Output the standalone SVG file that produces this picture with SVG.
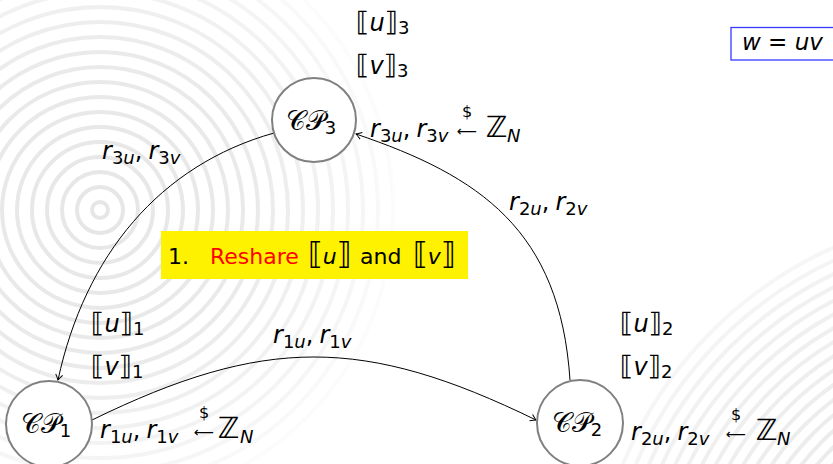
<svg xmlns="http://www.w3.org/2000/svg" width="833" height="464" viewBox="0 0 833 464">
<defs>
<style>
text { font-family: "DejaVu Sans", "Liberation Sans", sans-serif; font-size: 24px; fill: #000; }
.i { font-style: italic; }
.s { font-size: 18px; }
.b { font-size: 27px; }
.cp { font-size: 27px; }
.dol { font-size: 16px; }
.arw { font-size: 14px; }
.zz { font-size: 29px; }
.st { font-size: 22px; }
.bb { font-size: 30px; }
.node circle { fill: #fff; stroke: #808080; stroke-width: 2; }
.edge { fill: none; stroke: #000; stroke-width: 1; marker-end: url(#arr); }
.bgL circle { fill: none; stroke: url(#gL); stroke-width: 4; }
.bgR circle { fill: none; stroke: url(#gR); stroke-width: 4; }
</style>
<radialGradient id="gL" gradientUnits="userSpaceOnUse" cx="100" cy="210" r="310">
<stop offset="0" stop-color="#e6e6e6"/>
<stop offset="0.5" stop-color="#eaeaea"/>
<stop offset="0.85" stop-color="#f6f6f6"/>
<stop offset="1" stop-color="#ffffff"/>
</radialGradient>
<radialGradient id="gR" gradientUnits="userSpaceOnUse" cx="1000" cy="620" r="470">
<stop offset="0.35" stop-color="#e8e8e8"/>
<stop offset="0.8" stop-color="#f1f1f1"/>
<stop offset="1" stop-color="#ffffff"/>
</radialGradient>
<marker id="arr" markerUnits="userSpaceOnUse" markerWidth="10" markerHeight="10" refX="0" refY="0" orient="auto" style="overflow:visible">
<path d="M-5.5,-3.5 Q-1.5,-0.8 0,0 Q-1.5,0.8 -5.5,3.5" fill="none" stroke="#000" stroke-width="1"/>
</marker>
</defs>
<rect width="833" height="464" fill="#fff"/>
<g class="bgL">
<circle cx="100" cy="210" r="8"/><circle cx="100" cy="210" r="23"/><circle cx="100" cy="210" r="38"/><circle cx="100" cy="210" r="53"/><circle cx="100" cy="210" r="68"/><circle cx="100" cy="210" r="83"/><circle cx="100" cy="210" r="98"/><circle cx="100" cy="210" r="113"/><circle cx="100" cy="210" r="128"/><circle cx="100" cy="210" r="143"/><circle cx="100" cy="210" r="158"/><circle cx="100" cy="210" r="173"/><circle cx="100" cy="210" r="188"/><circle cx="100" cy="210" r="203"/><circle cx="100" cy="210" r="218"/><circle cx="100" cy="210" r="233"/><circle cx="100" cy="210" r="248"/><circle cx="100" cy="210" r="263"/><circle cx="100" cy="210" r="278"/><circle cx="100" cy="210" r="293"/>
</g>
<g class="bgR">
<circle cx="1000" cy="620" r="180"/><circle cx="1000" cy="620" r="192"/><circle cx="1000" cy="620" r="204"/><circle cx="1000" cy="620" r="216"/><circle cx="1000" cy="620" r="228"/><circle cx="1000" cy="620" r="240"/><circle cx="1000" cy="620" r="252"/><circle cx="1000" cy="620" r="264"/><circle cx="1000" cy="620" r="276"/><circle cx="1000" cy="620" r="288"/><circle cx="1000" cy="620" r="300"/><circle cx="1000" cy="620" r="312"/><circle cx="1000" cy="620" r="324"/><circle cx="1000" cy="620" r="336"/><circle cx="1000" cy="620" r="348"/><circle cx="1000" cy="620" r="360"/><circle cx="1000" cy="620" r="372"/><circle cx="1000" cy="620" r="384"/><circle cx="1000" cy="620" r="396"/><circle cx="1000" cy="620" r="408"/>
</g>

<g id="connectors">
<path class="edge" d="M274,133 C160,165 85,255 58,380"/>
<path class="edge" d="M92,420 C264,336 364,336 536,420"/>
<path class="edge" d="M570,380 C560,230 480,176 356,134"/>
</g>

<g id="cp3" class="node">
<circle cx="314" cy="120" r="42"/>
<text x="311" y="130" text-anchor="middle"><tspan class="cp">𝒞𝒫</tspan><tspan class="s" dy="4">3</tspan></text>
</g>
<g id="cp1" class="node">
<circle cx="49" cy="424" r="43"/>
<text x="46" y="433" text-anchor="middle"><tspan class="cp">𝒞𝒫</tspan><tspan class="s" dy="4">1</tspan></text>
</g>
<g id="cp2" class="node">
<circle cx="580" cy="423" r="43"/>
<text x="577" y="432" text-anchor="middle"><tspan class="cp">𝒞𝒫</tspan><tspan class="s" dy="4">2</tspan></text>
</g>

<g id="shares">
<text x="356" y="31"><tspan class="b">⟦</tspan><tspan class="i">u</tspan><tspan class="b">⟧</tspan><tspan class="s" dy="3">3</tspan></text>
<text x="356" y="74"><tspan class="b">⟦</tspan><tspan class="i">v</tspan><tspan class="b">⟧</tspan><tspan class="s" dy="3">3</tspan></text>
<text x="91" y="332"><tspan class="b">⟦</tspan><tspan class="i">u</tspan><tspan class="b">⟧</tspan><tspan class="s" dy="3">1</tspan></text>
<text x="91" y="375"><tspan class="b">⟦</tspan><tspan class="i">v</tspan><tspan class="b">⟧</tspan><tspan class="s" dy="3">1</tspan></text>
<text x="620" y="332"><tspan class="b">⟦</tspan><tspan class="i">u</tspan><tspan class="b">⟧</tspan><tspan class="s" dy="3">2</tspan></text>
<text x="620" y="375"><tspan class="b">⟦</tspan><tspan class="i">v</tspan><tspan class="b">⟧</tspan><tspan class="s" dy="3">2</tspan></text>
</g>

<g id="randoms">
<text x="370" y="137"><tspan class="i">r</tspan><tspan class="s" dy="5">3<tspan class="i">u</tspan></tspan><tspan dy="-5">,</tspan><tspan class="i" dx="6">r</tspan><tspan class="s" dy="5">3<tspan class="i">v</tspan></tspan></text>
<text x="457" y="136"><tspan class="arw">⟵</tspan><tspan class="dol" x="467" y="117" text-anchor="middle">$</tspan></text>
<text class="zz" x="486" y="137">ℤ</text><text class="s i" x="507" y="142">N</text>

<text x="100" y="438"><tspan class="i">r</tspan><tspan class="s" dy="5">1<tspan class="i">u</tspan></tspan><tspan dy="-5">,</tspan><tspan class="i" dx="6">r</tspan><tspan class="s" dy="5">1<tspan class="i">v</tspan></tspan></text>
<text x="194" y="437"><tspan class="arw">⟵</tspan><tspan class="dol" x="204" y="418" text-anchor="middle">$</tspan></text>
<text class="zz" x="218" y="438">ℤ</text><text class="s i" x="240" y="443">N</text>

<text x="631" y="440"><tspan class="i">r</tspan><tspan class="s" dy="5">2<tspan class="i">u</tspan></tspan><tspan dy="-5">,</tspan><tspan class="i" dx="6">r</tspan><tspan class="s" dy="5">2<tspan class="i">v</tspan></tspan></text>
<text x="726" y="439"><tspan class="arw">⟵</tspan><tspan class="dol" x="736" y="420" text-anchor="middle">$</tspan></text>
<text class="zz" x="756" y="440">ℤ</text><text class="s i" x="777" y="445">N</text>
</g>

<g id="edge-labels">
<text x="102" y="159"><tspan class="i">r</tspan><tspan class="s" dy="5">3<tspan class="i">u</tspan></tspan><tspan dy="-5">,</tspan><tspan class="i" dx="6">r</tspan><tspan class="s" dy="5">3<tspan class="i">v</tspan></tspan></text>
<text x="509" y="210"><tspan class="i">r</tspan><tspan class="s" dy="5">2<tspan class="i">u</tspan></tspan><tspan dy="-5">,</tspan><tspan class="i" dx="6">r</tspan><tspan class="s" dy="5">2<tspan class="i">v</tspan></tspan></text>
<text x="273" y="343"><tspan class="i">r</tspan><tspan class="s" dy="5">1<tspan class="i">u</tspan></tspan><tspan dy="-5">,</tspan><tspan class="i" dx="6">r</tspan><tspan class="s" dy="5">1<tspan class="i">v</tspan></tspan></text>
</g>

<g id="step">
<rect x="161" y="231" width="307" height="48" fill="#fff200"/>
<text class="st" x="168" y="264">1.</text>
<text class="st" x="210" y="264" style="fill:#ff0000">Reshare</text>
<text class="st" x="308" y="264"><tspan class="bb">⟦</tspan><tspan class="i">u</tspan><tspan class="bb">⟧</tspan></text>
<text class="st" x="360" y="264">and</text>
<text class="st" x="413" y="264"><tspan class="bb">⟦</tspan><tspan class="i">v</tspan><tspan class="bb">⟧</tspan></text>
</g>

<g id="formula">
<rect x="731" y="27.5" width="110" height="32.5" fill="#fff" stroke="#3838ff" stroke-width="1.3"/>
<text x="742" y="50" style="font-size:23px"><tspan class="i">w</tspan> = <tspan class="i">uv</tspan></text>
</g>
</svg>
